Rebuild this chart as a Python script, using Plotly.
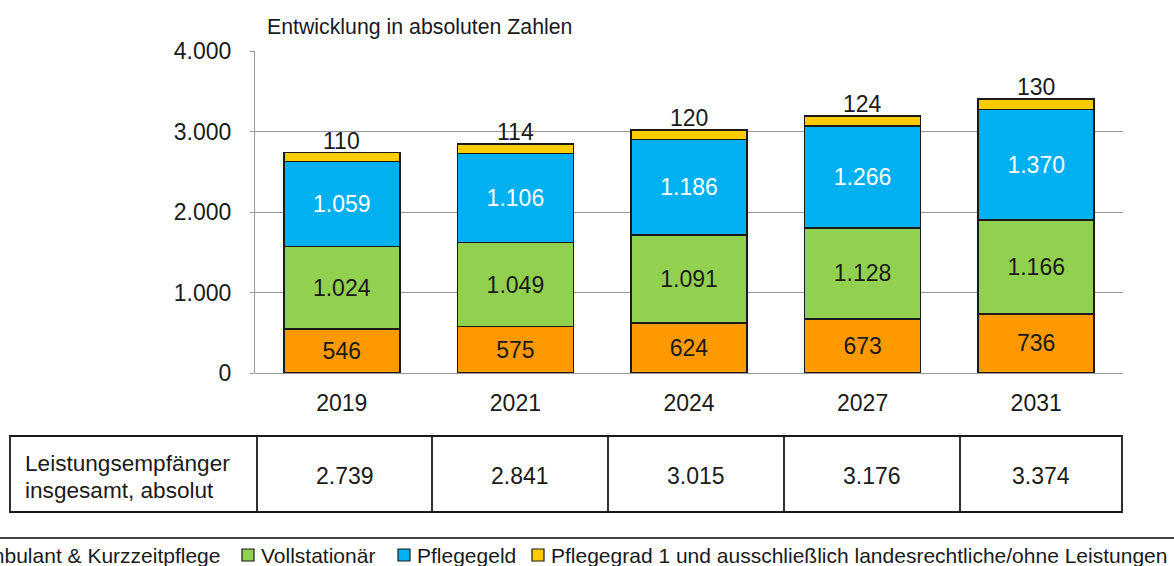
import plotly.graph_objects as go

# ---- data ----
years = ["2019", "2021", "2024", "2027", "2031"]
ambulant = [546, 575, 624, 673, 736]
vollstationaer = [1024, 1049, 1091, 1128, 1166]
pflegegeld = [1059, 1106, 1186, 1266, 1370]
pflegegrad1 = [110, 114, 120, 124, 130]
totals = [2739, 2841, 3015, 3176, 3374]
series_names = [
    "Ambulant & Kurzzeitpflege",
    "Vollstationär",
    "Pflegegeld",
    "Pflegegrad 1 und ausschließlich landesrechtliche/ohne Leistungen",
]
table_label = ["Leistungsempfänger", "insgesamt, absolut"]
title_text = "Entwicklung in absoluten Zahlen"

# ---- layout helpers (pixel -> paper) ----
W, H = 1174, 566
L, R, T, B = 255, 1123, 51, 373
FONT = "Liberation Sans, Arial, sans-serif"
BLACK = "#1a1a1a"
GRID = "#999999"


def px(x):
    return (x - L) / (R - L)


def py(y):
    return (B - y) / (B - T)


def de(v):
    return f"{v:,}".replace(",", ".")


colors = ["#FF9900", "#92D050", "#00B0F0", "#FFCC00"]
values = [ambulant, vollstationaer, pflegegeld, pflegegrad1]
txtcolors = [BLACK, BLACK, "white", BLACK]

fig = go.Figure()
for i, (name, vals) in enumerate(zip(series_names, values)):
    is_top = i == 3
    fig.add_trace(
        go.Bar(
            x=years,
            y=vals,
            name=name,
            marker=dict(color=colors[i], line=dict(color=BLACK, width=1.5)),
            texttemplate="%{y:,}",
            textposition="none" if is_top else "inside",
            insidetextanchor="middle",
            textangle=0,
            constraintext="none",
            textfont=dict(family=FONT, size=23, color=txtcolors[i]),
            cliponaxis=False,
            hoverinfo="skip",
        )
    )

shapes = []
annotations = []

# labels of the top (yellow) segment, placed above each stack
stack_tops = [a + b + c + d for a, b, c, d in zip(ambulant, vollstationaer, pflegegeld, pflegegrad1)]
for k, (top, v) in enumerate(zip(stack_tops, pflegegrad1)):
    annotations.append(dict(
        x=k, y=top, xref="x", yref="y", xanchor="center", yanchor="middle", yshift=12,
        text=str(v), showarrow=False, font=dict(family=FONT, size=23, color=BLACK)))

# title
annotations.append(dict(
    x=px(265), y=py(27), xref="paper", yref="paper", xanchor="left", yanchor="middle",
    text=title_text, showarrow=False, font=dict(family=FONT, size=21.3, color=BLACK)))

# table
tx0, tx1, ty0, ty1 = 10, 1122, 436, 512
dividers = [257, 432, 608, 784, 960]
shapes.append(dict(type="rect", xref="paper", yref="paper",
                   x0=px(tx0), x1=px(tx1), y0=py(ty1), y1=py(ty0),
                   line=dict(color=BLACK, width=1.8), layer="above"))
for d in dividers:
    shapes.append(dict(type="line", xref="paper", yref="paper",
                       x0=px(d), x1=px(d), y0=py(ty1), y1=py(ty0),
                       line=dict(color=BLACK, width=1.8)))
annotations.append(dict(
    x=px(23), y=py(463), xref="paper", yref="paper", xanchor="left", yanchor="middle",
    text=table_label[0], showarrow=False, font=dict(family=FONT, size=22.6, color=BLACK)))
annotations.append(dict(
    x=px(23), y=py(490), xref="paper", yref="paper", xanchor="left", yanchor="middle",
    text=table_label[1], showarrow=False, font=dict(family=FONT, size=22.6, color=BLACK)))
edges = dividers + [tx1]
for k, v in enumerate(totals):
    cx = (edges[k] + edges[k + 1]) / 2
    annotations.append(dict(
        x=px(cx), y=py(476), xref="paper", yref="paper", xanchor="center", yanchor="middle",
        text=de(v), showarrow=False, font=dict(family=FONT, size=23, color=BLACK)))

# separator line above legend
shapes.append(dict(type="line", xref="paper", yref="paper",
                   x0=px(0), x1=px(W), y0=py(538), y1=py(538),
                   line=dict(color="#404040", width=1.8)))

# legend (drawn manually; overflowing the canvas like the reference)
leg_y = 555
sq = 12
leg_font = 21
leg_items = [
    (-42, 222, "right"),
    (242, 259, "left"),
    (398, 415, "left"),
    (532, 549, "left"),
]
for i, (sqx, txx, anc) in enumerate(leg_items):
    shapes.append(dict(type="rect", xref="paper", yref="paper",
                       x0=px(sqx), x1=px(sqx + sq), y0=py(leg_y + sq / 2), y1=py(leg_y - sq / 2),
                       fillcolor=colors[i], line=dict(color=BLACK, width=1.2)))
    annotations.append(dict(
        x=px(txx), y=py(leg_y), xref="paper", yref="paper", xanchor=anc, yanchor="middle",
        text=series_names[i], showarrow=False, font=dict(family=FONT, size=leg_font, color=BLACK)))

fig.update_layout(
    width=W, height=H,
    margin=dict(l=L, r=W - R, t=T, b=H - B, pad=0),
    barmode="stack",
    bargap=0.332,
    showlegend=False,
    separators=",.",
    paper_bgcolor="white",
    plot_bgcolor="white",
    font=dict(family=FONT, size=23, color=BLACK),
    shapes=shapes,
    annotations=annotations,
)
fig.update_xaxes(
    type="category",
    showgrid=False, showline=False, ticks="", ticklabelstandoff=14,
    tickfont=dict(family=FONT, size=23, color=BLACK), fixedrange=True,
)
fig.update_yaxes(
    range=[0, 4001], dtick=1000, tickformat=",d",
    showgrid=True, gridcolor=GRID, gridwidth=1,
    zeroline=True, zerolinecolor=GRID, zerolinewidth=1,
    showline=True, linecolor=GRID, linewidth=1,
    ticks="outside", ticklen=4, tickcolor=GRID, ticklabelstandoff=14,
    tickfont=dict(family=FONT, size=23, color=BLACK), fixedrange=True,
)

fig.write_html(
    "out.html",
    config={"displayModeBar": False},
    post_script="document.body.style.margin='0';document.body.style.overflow='hidden';",
)
